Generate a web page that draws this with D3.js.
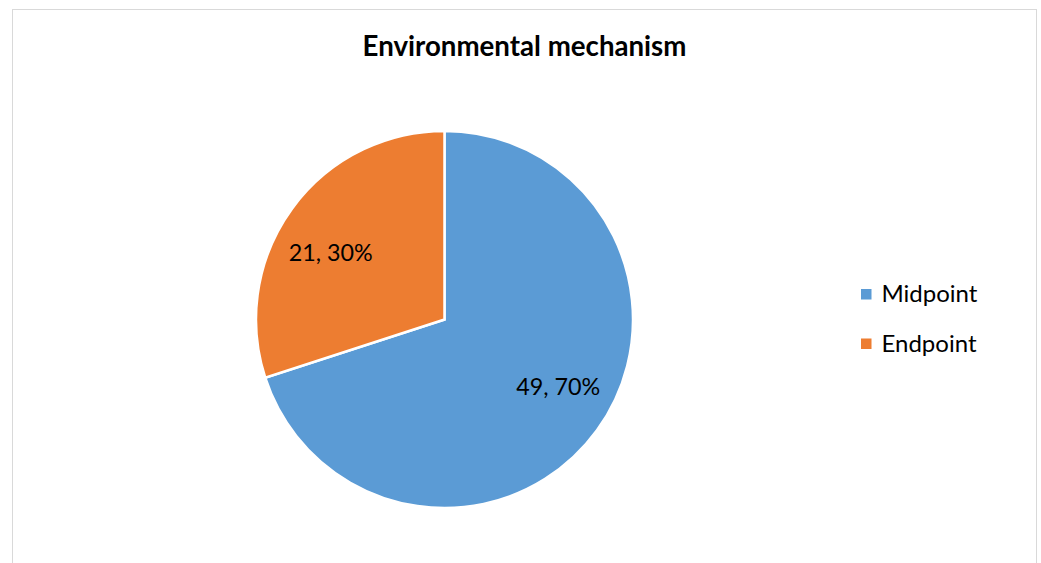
<!DOCTYPE html>
<html>
<head>
<meta charset="utf-8">
<script src="https://cdn.jsdelivr.net/npm/d3@7/dist/d3.min.js"></script>
<style>
  html, body { margin: 0; padding: 0; background: #fff; }
  svg { display: block; }
  text { font-family: Lato, "Open Sans", "DejaVu Sans", sans-serif; fill: #000; }
</style>
</head>
<body>
<svg id="chart" width="1041" height="563"></svg>
<script>
const title = "Environmental mechanism";
const categories = ["Midpoint", "Endpoint"];
const values = [49, 21];
const colors = ["#5B9BD5", "#ED7D31"];

const W = 1041, H = 563;
const svg = d3.select("#chart");

// chart border
svg.append("rect")
  .attr("x", 12.5).attr("y", 9.5)
  .attr("width", 1024).attr("height", 600)
  .attr("fill", "#fff").attr("stroke", "#D9D9D9").attr("stroke-width", 1);

// helper to fit a text to a target width
function fit(sel, targetWidth, baseSize) {
  sel.style("font-size", baseSize + "px");
  const w = sel.node().getComputedTextLength();
  sel.style("font-size", (baseSize * targetWidth / w) + "px");
  return sel;
}

// title
const t = svg.append("text")
  .attr("x", 524.5).attr("y", 56)
  .attr("text-anchor", "middle")
  .style("font-weight", "bold")
  .text(title);
fit(t, 324, 18);

// pie
const cx = 444.5, cy = 319.5, R = 188.5;
const total = d3.sum(values);
const pie = d3.pie().sort(null).value(d => d).startAngle(0).endAngle(2 * Math.PI);
const arcs = pie(values);
const arc = d3.arc().innerRadius(0).outerRadius(R);

const g = svg.append("g").attr("transform", `translate(${cx},${cy})`);
g.selectAll("path.slice")
  .data(arcs)
  .join("path")
  .attr("class", "slice")
  .attr("d", arc)
  .attr("fill", (d, i) => colors[i])
  .attr("stroke", "#fff")
  .attr("stroke-width", 2.5)
  .attr("stroke-linejoin", "miter");

// data labels
const labelR = 0.70 * R;
const shift = -5.6 * Math.PI / 180;
const fmtPct = d3.format(".0%");
g.selectAll("text.lbl")
  .data(arcs)
  .join("text")
  .attr("class", "lbl")
  .attr("text-anchor", "middle")
  .attr("x", d => labelR * Math.sin((d.startAngle + d.endAngle) / 2 + shift))
  .attr("y", d => -labelR * Math.cos((d.startAngle + d.endAngle) / 2 + shift) + 8.5)
  .text(d => `${d.value}, ${fmtPct(d.value / total)}`)
  .each(function () { fit(d3.select(this), 84, 22); });

// legend
const lg = svg.append("g").attr("transform", "translate(861,289)");
const items = lg.selectAll("g.item")
  .data(categories)
  .join("g")
  .attr("class", "item")
  .attr("transform", (d, i) => `translate(0,${i * 49.5})`);
items.append("rect")
  .attr("width", 10.5).attr("height", 10.5)
  .attr("fill", (d, i) => colors[i]);
items.append("text")
  .attr("x", 20.5).attr("y", 13.3)
  .text(d => d);
const mt = items.filter((d, i) => i === 0).select("text");
fit(mt, 96, 22);
const fs = mt.style("font-size");
items.selectAll("text").style("font-size", fs);
</script>
</body>
</html>
